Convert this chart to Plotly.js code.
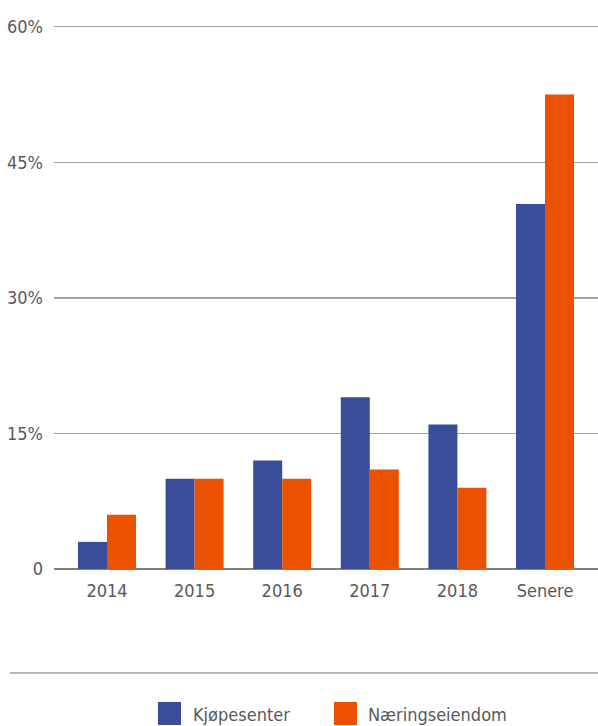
<!DOCTYPE html>
<html>
<head>
<meta charset="utf-8">
<script src="https://cdn.plot.ly/plotly-3.0.1.min.js"></script>
<style>html,body{margin:0;padding:0;background:#fff;}#chart{width:598px;height:726px;}</style>
</head>
<body>
<div id="chart"></div>
<script>
const categories = ['2014', '2015', '2016', '2017', '2018', 'Senere'];
const seriesNames = ['Kjøpesenter', 'Næringseiendom'];
const kjopesenter = [3, 10, 12, 19, 16, 40.4];
const naeringseiendom = [6, 10, 10, 11, 9, 52.5];
const yTickVals = [0, 15, 30, 45, 60];
const yTickText = ['0', '15%', '30%', '45%', '60%'];
const colors = ['#394d9b', '#ea5100'];

const FONT = '"Liberation Sans Narrow", "DejaVu Sans Condensed", "Roboto", sans-serif';
const TXT = '#58595b';
const FS = 18;

const traces = [
  {type: 'bar', name: seriesNames[0], x: categories, y: kjopesenter, marker: {color: colors[0]}, hoverinfo: 'none'},
  {type: 'bar', name: seriesNames[1], x: categories, y: naeringseiendom, marker: {color: colors[1]}, hoverinfo: 'none'}
];

const TOP = 25, BOTTOM = 569;
const plotH = BOTTOM - TOP, plotW = 544;
function py(pix) { return -(pix - BOTTOM) / plotH; }
function px(pix) { return (pix - 54) / plotW; }

const shapes = [
  {type: 'line', xref: 'paper', yref: 'paper', x0: px(10), x1: 1, y0: py(673), y1: py(673), line: {color: '#a0a0a0', width: 1.5}},
  {type: 'rect', xref: 'paper', yref: 'paper', x0: px(158), x1: px(181), y0: py(702), y1: py(725), fillcolor: colors[0], line: {width: 0}},
  {type: 'rect', xref: 'paper', yref: 'paper', x0: px(334), x1: px(357), y0: py(702), y1: py(725), fillcolor: colors[1], line: {width: 0}}
];
const annotations = [
  {xref: 'paper', yref: 'paper', x: px(191), y: py(714), xanchor: 'left', yanchor: 'middle', text: seriesNames[0], showarrow: false, font: {family: FONT, size: FS, color: TXT}},
  {xref: 'paper', yref: 'paper', x: px(366), y: py(714), xanchor: 'left', yanchor: 'middle', text: seriesNames[1], showarrow: false, font: {family: FONT, size: FS, color: TXT}}
];

const layout = {
  width: 598, height: 726,
  margin: {l: 54, r: 0, t: TOP, b: 726 - BOTTOM, pad: 0},
  paper_bgcolor: '#fff', plot_bgcolor: '#fff',
  barmode: 'group', bargap: 0.338, bargroupgap: 0,
  showlegend: false,
  font: {family: FONT, size: FS, color: TXT},
  xaxis: {
    type: 'category', range: [-0.605, 5.605], showgrid: false, zeroline: false,
    showline: false, ticks: '', tickfont: {family: FONT, size: FS, color: TXT}, ticklabelstandoff: 9
  },
  yaxis: {
    range: [0, 60.2], tickvals: yTickVals, ticktext: yTickText, showgrid: true,
    gridcolor: '#a0a0a0', gridwidth: 1.3, zeroline: true, zerolinecolor: '#808080', zerolinewidth: 1.5,
    showline: false, ticks: '', tickfont: {family: FONT, size: FS, color: TXT}, ticklabelstandoff: 10
  },
  shapes: shapes,
  annotations: annotations
};

Plotly.newPlot('chart', traces, layout, {displayModeBar: false, staticPlot: true});
</script>
</body>
</html>
